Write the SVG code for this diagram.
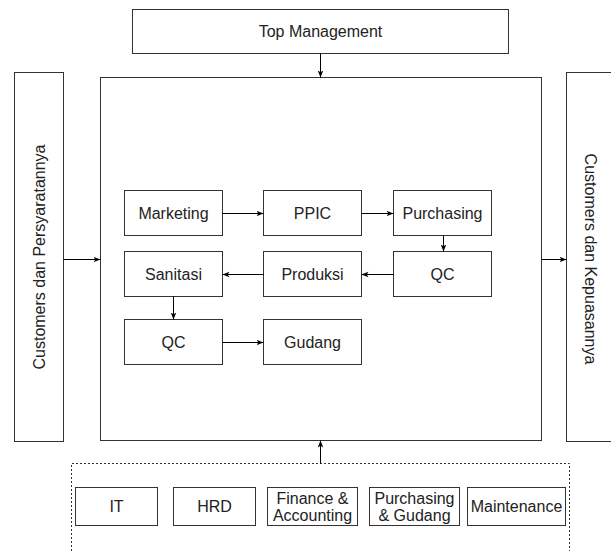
<svg xmlns="http://www.w3.org/2000/svg" width="611" height="551" viewBox="0 0 611 551">
<defs>
<style>
.box{fill:#fff;stroke:#333;stroke-width:1}
.dash{fill:none;stroke:#333;stroke-width:1;stroke-dasharray:2 2}
.t{font-family:"Liberation Sans",Arial,sans-serif;font-size:16px;fill:#222;text-anchor:middle;dominant-baseline:central}
.c{fill:none;stroke:#000;stroke-width:1;marker-end:url(#ah)}
</style>
<marker id="ah" viewBox="0 0 10 10" refX="10" refY="5" markerWidth="7" markerHeight="7" markerUnits="userSpaceOnUse" orient="auto">
<path d="M0,1 L10,5 L0,9 L2.5,5 Z" fill="#000"/>
</marker>
</defs>
<rect width="611" height="551" fill="#fff"/>

<g id="top-management"><rect class="box" x="132.5" y="9.5" width="376" height="44"/><text class="t" x="320.5" y="31.5">Top Management</text></g>
<g id="main"><rect class="box" x="100.5" y="77.5" width="441" height="363"/></g>
<g id="customers-left"><rect class="box" x="14.5" y="72.5" width="49" height="369"/><text class="t" transform="translate(39,257) rotate(-90)">Customers dan Persyaratannya</text></g>
<g id="customers-right"><rect class="box" x="566.5" y="72.5" width="48" height="369"/><text class="t" transform="translate(590.5,259) rotate(90)">Customers dan Kepuasannya</text></g>

<g id="marketing"><rect class="box" x="124.5" y="190.5" width="98" height="45"/><text class="t" x="173.5" y="213">Marketing</text></g>
<g id="ppic"><rect class="box" x="263.5" y="190.5" width="98" height="45"/><text class="t" x="312.5" y="213">PPIC</text></g>
<g id="purchasing"><rect class="box" x="393.5" y="190.5" width="98" height="45"/><text class="t" x="442.5" y="213">Purchasing</text></g>
<g id="sanitasi"><rect class="box" x="124.5" y="251.5" width="98" height="45"/><text class="t" x="173.5" y="274">Sanitasi</text></g>
<g id="produksi"><rect class="box" x="263.5" y="251.5" width="98" height="45"/><text class="t" x="312.5" y="274">Produksi</text></g>
<g id="qc1"><rect class="box" x="393.5" y="251.5" width="98" height="45"/><text class="t" x="442.5" y="274">QC</text></g>
<g id="qc2"><rect class="box" x="124.5" y="319.5" width="98" height="45"/><text class="t" x="173.5" y="342">QC</text></g>
<g id="gudang"><rect class="box" x="263.5" y="319.5" width="98" height="45"/><text class="t" x="312.5" y="342">Gudang</text></g>

<g id="support"><path class="dash" d="M71.5,551 V463.5 H569.5 V551"/></g>
<g id="it"><rect class="box" x="75.5" y="487.5" width="82" height="38"/><text class="t" x="116.5" y="506.5">IT</text></g>
<g id="hrd"><rect class="box" x="173.5" y="487.5" width="82" height="38"/><text class="t" x="214.5" y="506.5">HRD</text></g>
<g id="finance"><rect class="box" x="267.5" y="487.5" width="90" height="38"/><text class="t" x="312.5" y="498">Finance &amp;</text><text class="t" x="312.5" y="515">Accounting</text></g>
<g id="purchasing-gudang"><rect class="box" x="369.5" y="487.5" width="90" height="38"/><text class="t" x="414.5" y="498">Purchasing</text><text class="t" x="414.5" y="515">&amp; Gudang</text></g>
<g id="maintenance"><rect class="box" x="467.5" y="487.5" width="98" height="38"/><text class="t" x="516.5" y="506.5">Maintenance</text></g>

<g id="connectors">
<line class="c" x1="320.5" y1="53.5" x2="320.5" y2="77.5"/>
<line class="c" x1="63.5" y1="259.5" x2="100.5" y2="259.5"/>
<line class="c" x1="541.5" y1="259.5" x2="566.5" y2="259.5"/>
<line class="c" x1="320.5" y1="463.5" x2="320.5" y2="440.5"/>
<line class="c" x1="222.5" y1="213.5" x2="263.5" y2="213.5"/>
<line class="c" x1="361.5" y1="213.5" x2="393.5" y2="213.5"/>
<line class="c" x1="443.5" y1="235.5" x2="443.5" y2="251.5"/>
<line class="c" x1="393.5" y1="274.5" x2="361.5" y2="274.5"/>
<line class="c" x1="263.5" y1="274.5" x2="222.5" y2="274.5"/>
<line class="c" x1="173.5" y1="296.5" x2="173.5" y2="319.5"/>
<line class="c" x1="222.5" y1="342.5" x2="263.5" y2="342.5"/>
</g>
</svg>
